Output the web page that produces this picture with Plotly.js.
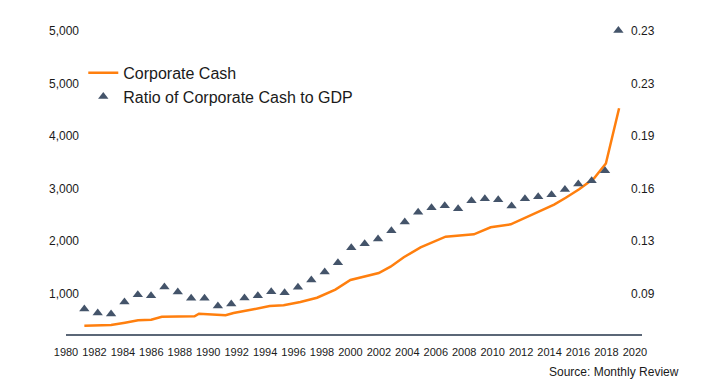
<!DOCTYPE html>
<html>
<head>
<meta charset="utf-8">
<script src="https://cdn.plot.ly/plotly-3.0.1.min.js"></script>
<style>html,body{margin:0;padding:0;background:#fff;}#chart{width:713px;height:389px;}</style>
</head>
<body>
<div id="chart"></div>
<script>
// Corporate cash (billions), traced vertices
const cashYears = [1981.29, 1983.17, 1984.15, 1985.07, 1985.99, 1986.74, 1989.04, 1989.35, 1991.22, 1991.78,
  1993.19, 1994.32, 1995.30, 1996.48, 1997.65, 1998.94, 2000.00, 2001.18, 2001.99, 2002.82,
  2003.75, 2004.93, 2005.75, 2006.69, 2008.68, 2009.86, 2011.27, 2012.32, 2013.38, 2014.32,
  2015.14, 2016.08, 2017.13, 2017.96, 2018.89];
const cashValues = [383, 396, 440, 486, 497, 554, 562, 611, 581, 625,
  695, 758, 771, 834, 916, 1072, 1253, 1330, 1387, 1507,
  1686, 1876, 1972, 2078, 2124, 2257, 2314, 2448, 2568, 2688,
  2821, 2981, 3191, 3473, 4524];

// Ratio of corporate cash to GDP
const ratioYears = [1981.29, 1982.23, 1983.17, 1984.11, 1985.05, 1985.98, 1986.92, 1987.86, 1988.80, 1989.74,
  1990.68, 1991.62, 1992.55, 1993.49, 1994.43, 1995.37, 1996.31, 1997.25, 1998.19, 1999.12,
  2000.06, 2001.00, 2001.94, 2002.88, 2003.82, 2004.76, 2005.70, 2006.63, 2007.57, 2008.51,
  2009.45, 2010.39, 2011.33, 2012.27, 2013.20, 2014.14, 2015.08, 2016.02, 2016.96, 2017.90, 2018.84];
const ratioValues = [0.0795, 0.0769, 0.0762, 0.0842, 0.0891, 0.0884, 0.0942, 0.0909, 0.0867, 0.0867,
  0.0815, 0.0829, 0.0869, 0.0884, 0.0911, 0.0904, 0.0940, 0.0989, 0.1042, 0.1104,
  0.1203, 0.1231, 0.1262, 0.1317, 0.1375, 0.1440, 0.1471, 0.1484, 0.1464, 0.1517,
  0.1531, 0.1524, 0.1482, 0.1531, 0.1544, 0.1557, 0.1592, 0.1629, 0.1651, 0.1717, 0.2652];

const leftTickVals = [1000, 2000, 3000, 4000, 5000, 6000];
const leftTickText = ['1,000', '2,000', '3,000', '4,000', '5,000', '5,000'];
const rightTickVals = [0.09, 0.125, 0.16, 0.195, 0.23, 0.265];
const rightTickText = ['0.09', '0.13', '0.16', '0.19', '0.23', '0.23'];

const font = 'Liberation Sans, Arial, sans-serif';

const traces = [
  {
    x: cashYears, y: cashValues, type: 'scatter', mode: 'lines', name: 'Corporate Cash',
    line: {color: '#ff7f0e', width: 2.5}, yaxis: 'y'
  },
  {
    x: ratioYears, y: ratioValues, type: 'scatter', mode: 'markers', name: 'Ratio of Corporate Cash to GDP',
    marker: {symbol: 'triangle-up', color: '#44546a', size: 9}, yaxis: 'y2'
  }
];

const layout = {
  width: 713, height: 389,
  margin: {l: 66, r: 71, t: 20, b: 55},
  paper_bgcolor: '#fff', plot_bgcolor: '#fff',
  font: {family: font, size: 12, color: '#1a1a1a'},
  showlegend: true,
  legend: {x: 0.03, y: 0.886, xanchor: 'left', yanchor: 'top', font: {size: 16, color: '#1a1a1a'},
           bgcolor: 'rgba(0,0,0,0)', tracegroupgap: 0, itemwidth: 30},
  xaxis: {range: [1980, 2020.5], tick0: 1980, dtick: 2, showgrid: false, zeroline: false,
          showline: true, linecolor: '#5b6777', linewidth: 1.5, ticks: '', ticklabelstandoff: 7,
          tickangle: 0, tickfont: {size: 11, color: '#1a1a1a'}},
  yaxis: {range: [225, 6206], tickvals: leftTickVals, ticktext: leftTickText, showgrid: false,
          zeroline: false, showline: false, ticks: '', ticklabelstandoff: -14,
          tickfont: {size: 12, color: '#1a1a1a'}},
  yaxis2: {range: [0.06287, 0.2722], tickvals: rightTickVals, ticktext: rightTickText, overlaying: 'y',
           side: 'right', showgrid: false, zeroline: false, showline: false, ticks: '', ticklabelstandoff: -12,
           tickfont: {size: 12, color: '#1a1a1a'}},
  annotations: [{text: 'Source: Monthly Review', xref: 'paper', yref: 'paper',
                 x: (681 - 66) / (713 - 66 - 71), xanchor: 'right',
                 y: -(372 - 334) / (389 - 20 - 55), yanchor: 'middle',
                 showarrow: false, font: {size: 12, color: '#1a1a1a'}}]
};

Plotly.newPlot('chart', traces, layout, {displayModeBar: false, staticPlot: true});
</script>
</body>
</html>
